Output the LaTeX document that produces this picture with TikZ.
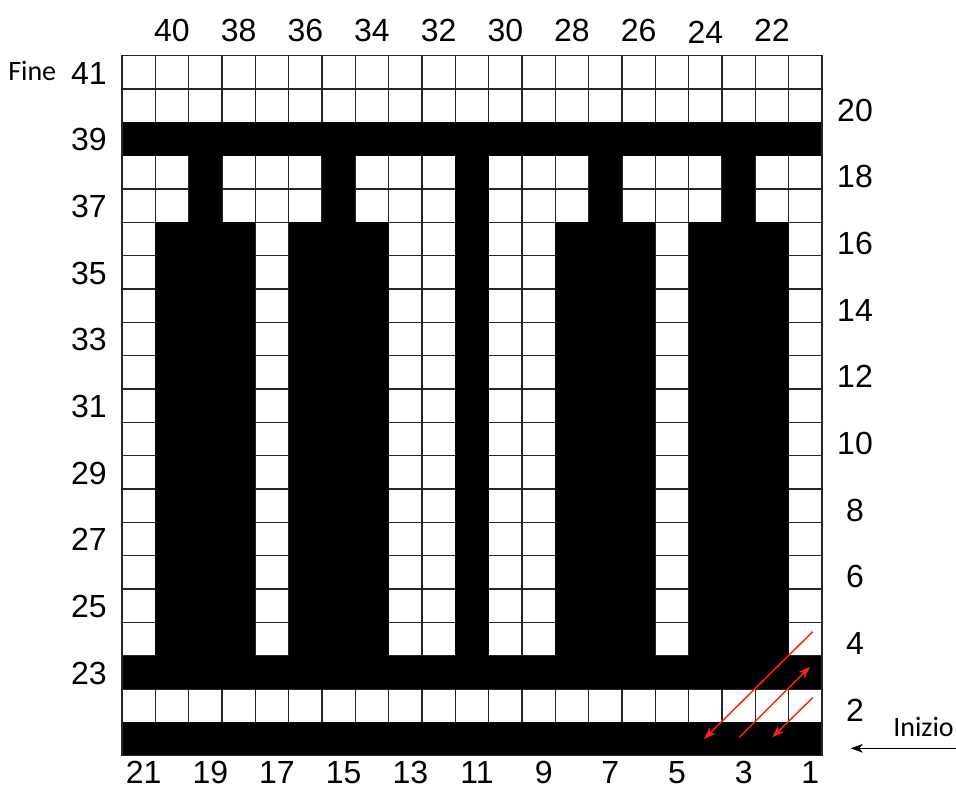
\documentclass[tikz,border=0pt]{standalone}
\usepackage{fontspec}
\setmainfont{Liberation Sans}
\newfontfamily\calibfont{Carlito}
\usetikzlibrary{arrows.meta}
\definecolor{arrowred}{RGB}{255,30,30}
\newcommand\blackblock[4]{\fill[cellfill] ({\Xo+(#1-1)*\cs},{\Yo+(#3-1)*\cs}) rectangle ({\Xo+#2*\cs},{\Yo+#4*\cs});}
\begin{document}
\begin{tikzpicture}[x=0.75pt,y=-0.75pt,
  num/.style={inner sep=0pt,text depth=0pt,font=\fontsize{24}{28}\selectfont},
  word/.style={inner sep=0pt,anchor=base west,font=\calibfont\fontsize{21}{25}\selectfont},
  gridline/.style={draw=black!85,line width=0.9pt},
  cellfill/.style={fill=black},
  redarrow/.style={draw=arrowred,line width=1.1pt,-{Stealth[length=9pt,width=6.5pt,inset=2.5pt]}},
  startarrow/.style={draw=black,line width=0.8pt,-{Stealth[length=9pt,width=6.5pt,inset=2.5pt]}}
]
\useasboundingbox (0,0) rectangle (956,790);
\fill[white] (0,0) rectangle (956,790);
\def\Xo{122}\def\Yo{55.7}\def\cs{33.333}
% grid
\foreach \i in {0,...,21}{
  \draw[gridline] ({\Xo+\i*\cs},\Yo) -- ({\Xo+\i*\cs},{\Yo+21*\cs});
  \draw[gridline] (\Xo,{\Yo+\i*\cs}) -- ({\Xo+21*\cs},{\Yo+\i*\cs});
}
% black cells
\blackblock{1}{21}{3}{3}
\foreach \c in {3,7,11,15,19}{\blackblock{\c}{\c}{4}{5}}
\foreach \a/\b in {2/4,6/8,11/11,14/16,18/20}{\blackblock{\a}{\b}{6}{18}}
\blackblock{1}{21}{19}{19}
\blackblock{1}{21}{21}{21}
\draw[gridline] (\Xo,\Yo) rectangle ({\Xo+21*\cs},{\Yo+21*\cs});
% top labels
\foreach \c/\lab/\yy in {2/40/30,4/38/30,6/36/30,8/34/30,10/32/30,12/30/30,14/28/30,16/26/30,18/24/32,20/22/30}{
  \node[num] (top\lab) at ({\Xo+(\c-0.5)*\cs},\yy) {\lab};
}
% bottom labels
\foreach \c [evaluate=\c as \lab using int(22-\c)] in {1,3,...,21}{
  \node[num] (bot\lab) at ({\Xo+(\c-0.5)*\cs+5},772) {\lab};
}
% left labels
\foreach \k [evaluate=\k as \lab using int(41-2*\k)] in {0,...,9}{
  \node[num] (left\lab) at (89,{73+66.67*\k}) {\lab};
}
% right labels
\foreach \k [evaluate=\k as \lab using int(20-2*\k)] in {0,...,9}{
  \node[num] (right\lab) at (855,{110+66.67*\k}) {\lab};
}
% words
\node[word] (fine) at (8,80) {Fine};
\node[word] (inizio) at (893,736.7) {Inizio};
% start arrow
\coordinate (startfrom) at (956,748.3);
\coordinate (startto) at (850.7,748.3);
\draw[startarrow] (startfrom) -- (startto);
% red arrows
\coordinate (ra1s) at (812.7,631.7);
\coordinate (ra1e) at (704,739);
\coordinate (ra2s) at (739.3,737.3);
\coordinate (ra2e) at (810,666.7);
\coordinate (ra3s) at (812.7,697.7);
\coordinate (ra3e) at (772.3,737.3);
\draw[redarrow] (ra1s) -- (ra1e);
\draw[redarrow] (ra2s) -- (ra2e);
\draw[redarrow] (ra3s) -- (ra3e);
\end{tikzpicture}
\end{document}
